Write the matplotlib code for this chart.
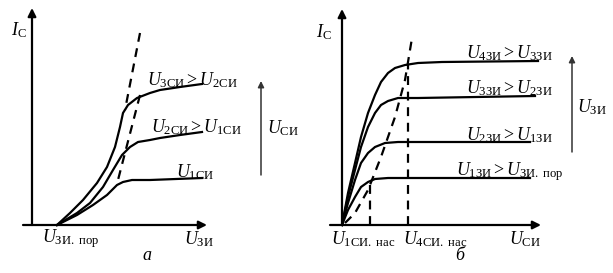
import matplotlib
matplotlib.use('Agg')
import matplotlib.pyplot as plt

plt.rcParams['mathtext.fontset'] = 'custom'
plt.rcParams['mathtext.rm'] = 'Liberation Serif'
plt.rcParams['mathtext.it'] = 'Liberation Serif:italic'
plt.rcParams['font.family'] = ['Liberation Serif', 'DejaVu Serif']

# --- panel a: transfer characteristics I_C(U_ZI) for three U_SI
a_x3 = [25, 38, 51, 65, 75, 83, 88, 91, 96, 105, 118, 128, 148, 170]
a_y3 = [0, 12, 25, 42, 58, 78, 98, 112, 120, 127, 132, 135, 138, 141]
a_x2 = [25, 45, 58, 71, 81, 90, 98, 106, 118, 128, 148, 170]
a_y2 = [0, 12, 22, 38, 55, 70, 78, 83, 85, 87, 90, 93]
a_x1 = [25, 45, 61, 75, 85, 91, 100, 118, 170]
a_y1 = [0, 10, 20, 30, 40, 43, 45, 45, 47]
a_dashA_x = [108, 93]
a_dashA_y = [192, 115]
a_dashB_x = [108, 86]
a_dashB_y = [130, 45]
a_labels = [r'$U_{3\mathrm{СИ}} > U_{2\mathrm{СИ}}$',
            r'$U_{2\mathrm{СИ}} > U_{1\mathrm{СИ}}$',
            r'$U_{1\mathrm{СИ}}$']

# --- panel б: output characteristics I_C(U_SI) for four U_ZI
b_x4 = [0, 6, 13, 19, 26, 33, 39, 46, 53, 63, 76, 100, 196]
b_y4 = [0, 32, 62, 88, 112, 130, 143, 152, 157, 160, 162, 163, 164]
b_x3 = [0, 6, 13, 19, 26, 33, 39, 46, 56, 76, 193]
b_y3 = [0, 28, 55, 78, 98, 112, 120, 124, 127, 127, 129]
b_x2 = [0, 6, 13, 19, 26, 33, 43, 56, 188]
b_y2 = [0, 22, 45, 62, 72, 78, 82, 83, 83]
b_x1 = [0, 6, 13, 19, 26, 33, 46, 188]
b_y1 = [0, 15, 28, 38, 43, 46, 47, 47]
b_sat_x = [3, 13, 26, 39, 53, 63, 68, 70]
b_sat_y = [2, 12, 35, 68, 108, 145, 175, 187]
b_nas_x = [28, 66]
b_nas_top = [46, 161]
b_labels = [r'$U_{4\mathrm{ЗИ}} > U_{3\mathrm{ЗИ}}$',
            r'$U_{3\mathrm{ЗИ}} > U_{2\mathrm{ЗИ}}$',
            r'$U_{2\mathrm{ЗИ}} > U_{1\mathrm{ЗИ}}$',
            r'$U_{1\mathrm{ЗИ}} > U_{\mathrm{ЗИ.\ пор}}$']

fs = 13
lw = 1.6
dash = (0, (4, 3))

fig = plt.figure(figsize=(6.13, 2.73), dpi=100)
ax1 = fig.add_axes([0, 0, 306 / 613, 1])
ax2 = fig.add_axes([306 / 613, 0, 307 / 613, 1])
ax1.set_xlim(-32, 274)
ax1.set_ylim(-48, 225)
ax2.set_xlim(-36, 271)
ax2.set_ylim(-48, 225)
for ax in (ax1, ax2):
    ax.axis('off')

def axes_arrows(ax, x0, x1, ytop):
    arr = dict(arrowstyle='-|>', lw=lw, color='black', mutation_scale=12,
               shrinkA=0, shrinkB=0)
    ax.annotate('', xy=(x1, 0), xytext=(x0, 0), arrowprops=arr)
    ax.annotate('', xy=(0, ytop), xytext=(0, 0), arrowprops=arr)

# panel a
axes_arrows(ax1, -9, 175, 217)
for xs, ys in [(a_x3, a_y3), (a_x2, a_y2), (a_x1, a_y1)]:
    ax1.plot(xs, ys, color='black', lw=lw, solid_joinstyle='round')
ax1.plot(a_dashA_x, a_dashA_y, color='black', lw=lw, ls=dash)
ax1.plot(a_dashB_x, a_dashB_y, color='black', lw=lw, ls=dash)
for txt, (x, y) in zip(a_labels, [(115, 145), (119, 98), (144, 53)]):
    ax1.text(x, y, txt, fontsize=fs, ha='left', va='center')
ax1.text(-21, 195, r'$I_{\mathrm{С}}$', fontsize=fs, ha='left', va='center')
ax1.text(10, -14, r'$U_{\mathrm{ЗИ.\ пор}}$', fontsize=fs, ha='left', va='center')
ax1.text(152, -14, r'$U_{\mathrm{ЗИ}}$', fontsize=fs, ha='left', va='center')
ax1.text(115, -30, r'$a$', fontsize=fs, ha='center', va='center')
ax1.annotate('', xy=(229, 144), xytext=(229, 50),
             arrowprops=dict(arrowstyle='-|>', lw=1.1, color='#333333',
                             mutation_scale=9, shrinkA=0, shrinkB=0))
ax1.text(235, 97, r'$U_{\mathrm{СИ}}$', fontsize=fs, ha='left', va='center')

# panel б
axes_arrows(ax2, -12, 199, 216)
for xs, ys in [(b_x4, b_y4), (b_x3, b_y3), (b_x2, b_y2), (b_x1, b_y1)]:
    ax2.plot(xs, ys, color='black', lw=lw, solid_joinstyle='round')
ax2.plot(b_sat_x, b_sat_y, color='black', lw=lw, ls=dash)
for x, top in zip(b_nas_x, b_nas_top):
    ax2.plot([x, x], [0, top], color='black', lw=lw, ls=dash)
for txt, (x, y) in zip(b_labels, [(124, 172), (124, 137), (124, 90), (114, 53)]):
    ax2.text(x, y, txt, fontsize=fs, ha='left', va='center')
ax2.text(-26, 193, r'$I_{\mathrm{С}}$', fontsize=fs, ha='left', va='center')
ax2.text(-11, -14, r'$U_{1\mathrm{СИ.\ нас}}$', fontsize=fs, ha='left', va='center')
ax2.text(61, -14, r'$U_{4\mathrm{СИ.\ нас}}$', fontsize=fs, ha='left', va='center')
ax2.text(167, -14, r'$U_{\mathrm{СИ}}$', fontsize=fs, ha='left', va='center')
ax2.text(118, -31, 'б', fontsize=fs, style='italic', ha='center', va='center')
ax2.annotate('', xy=(230, 169), xytext=(230, 73),
             arrowprops=dict(arrowstyle='-|>', lw=1.1, color='#333333',
                             mutation_scale=9, shrinkA=0, shrinkB=0))
ax2.text(235, 118, r'$U_{\mathrm{ЗИ}}$', fontsize=fs, ha='left', va='center')

fig.savefig('out.png', dpi=100)
